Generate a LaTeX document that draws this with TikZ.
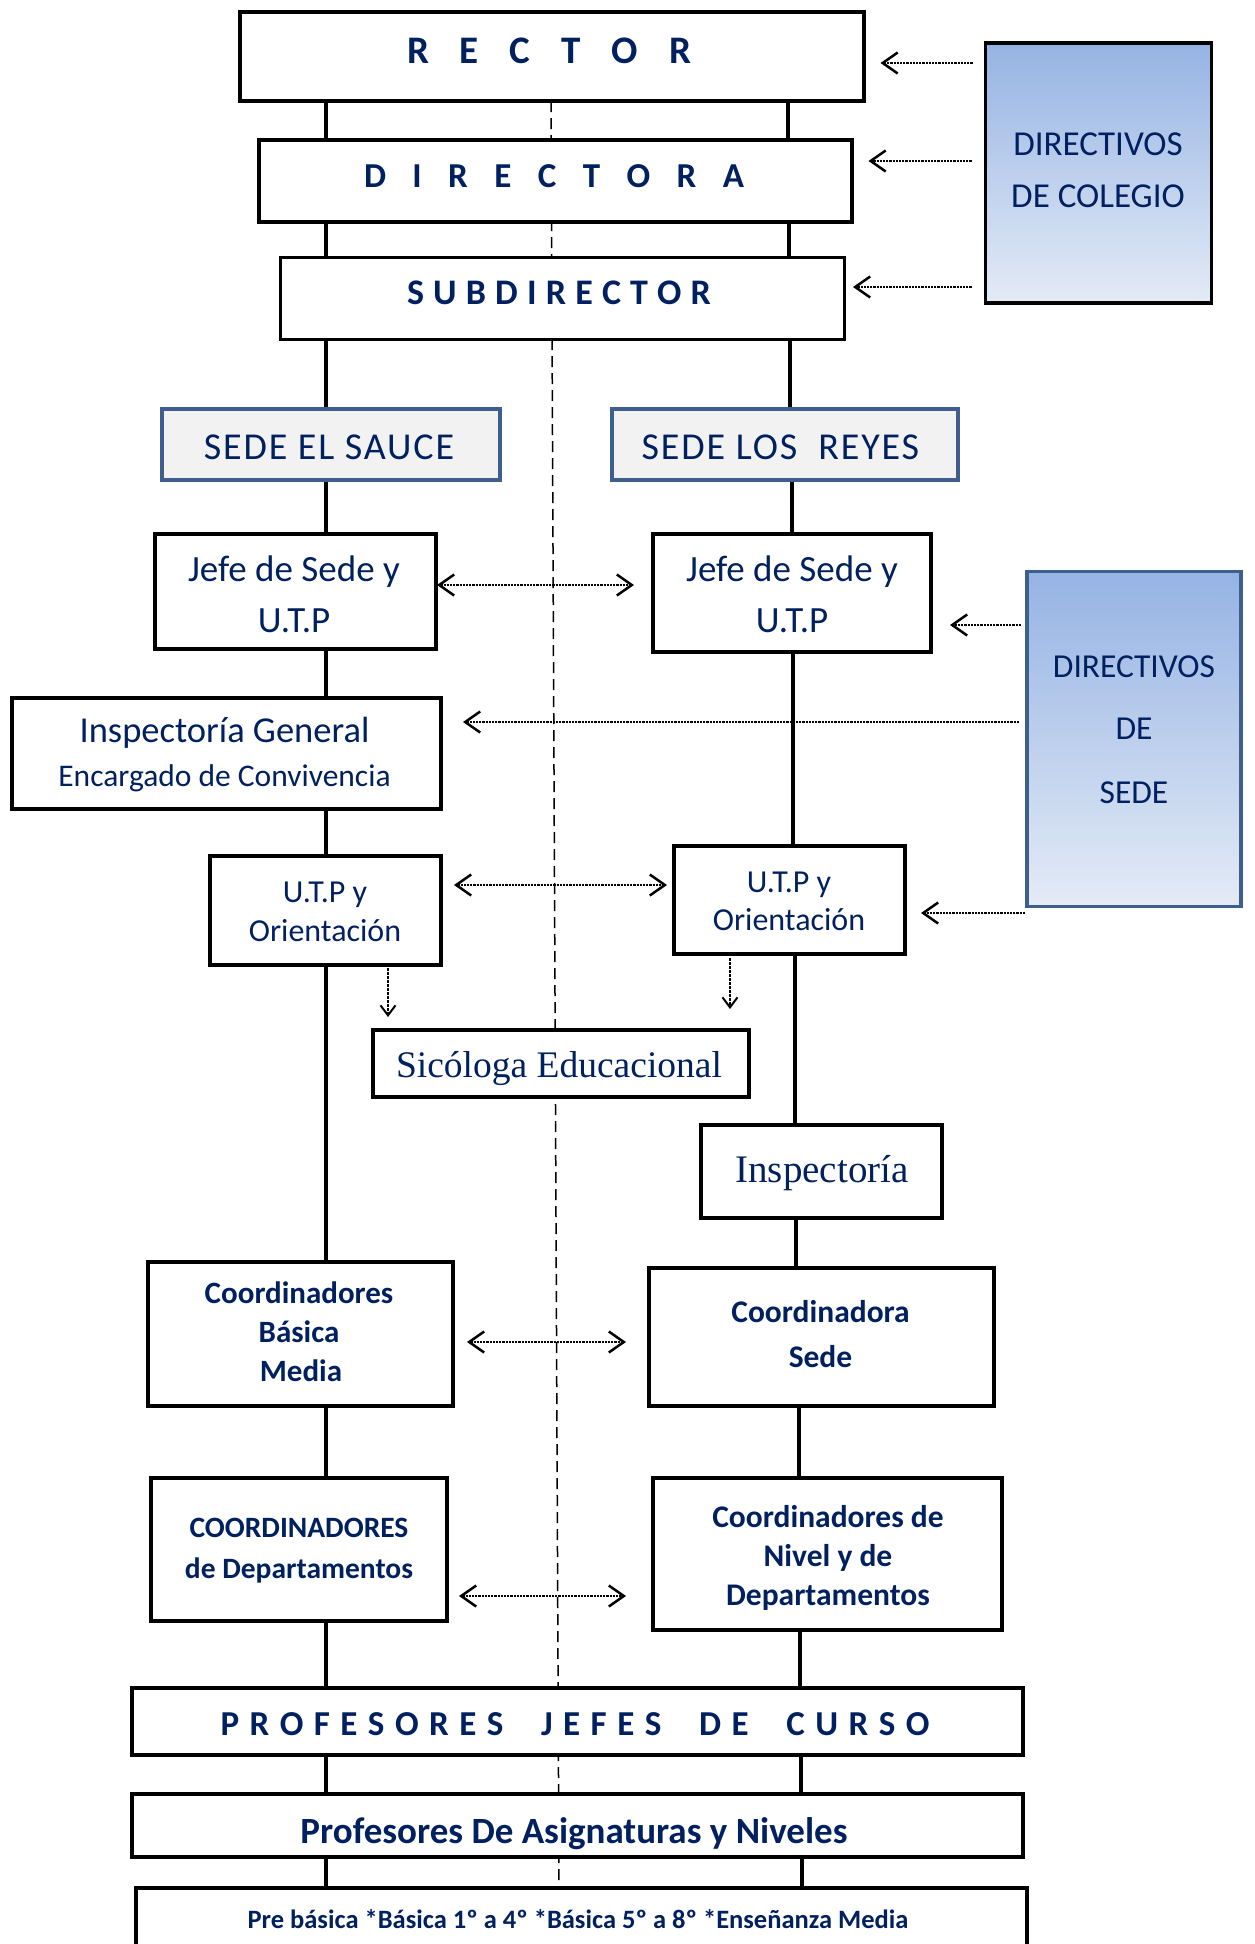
\documentclass[tikz,border=0pt]{standalone}
\usepackage{fontspec}
\setmainfont{Carlito}
\newfontfamily\camb{Liberation Serif}
\usetikzlibrary{arrows.meta}
\definecolor{navy}{HTML}{002060}
\definecolor{sedeblue}{HTML}{3E5E8E}
\definecolor{gtop}{HTML}{95B3E3}
\definecolor{gbot}{HTML}{E4EBF6}
\definecolor{sedefill}{HTML}{F2F2F2}
\pgfdeclarelayer{bg}
\pgfsetlayers{bg,main}
\newcommand\fsz[1]{\fontsize{#1pt}{#1pt}\selectfont}
\newcommand\tline[5]{\node[txt,font=#4] (#1) at (#2,#3) {#5};}
\newcommand\lgap{\hskip0pt plus 1fil\relax}
\newcommand\wgap{\hskip0pt plus 3.6fil\relax}
\tikzset{
  box/.style={draw=black, line width=4pt, fill=white, inner sep=0pt, outer sep=0pt},
  sedebox/.style={box, draw=sedeblue, fill=sedefill},
  dirbox/.style={draw=black, line width=3.5pt, top color=gtop, bottom color=gbot, inner sep=0pt, outer sep=0pt},
  txt/.style={anchor=base, inner sep=0pt, outer sep=0pt, text=navy},
  conn/.style={line width=4pt},
  cdash/.style={line width=1.5pt, dash pattern=on 11pt off 6pt},
  barb/.tip={Straight Barb[length=15pt,width=21pt,line width=2.5pt]},
  dotarr/.style={line width=2.6pt, dash pattern=on 2.2pt off 1pt, -barb},
  dotdarr/.style={line width=2.6pt, dash pattern=on 2.2pt off 1pt, barb-barb},
  downarr/.style={line width=1.8pt, dash pattern=on 2.5pt off 1.5pt, -{Straight Barb[length=10pt,width=15pt,line width=2pt]}}
}
\begin{document}
\begin{tikzpicture}[x=1pt,y=-1pt]
\useasboundingbox (0,0) rectangle (1254,1944);
\clip (0,0) rectangle (1254,1944);
\begin{pgfonlayer}{bg}
\fill[white] (0,0) rectangle (1254,1944);
\end{pgfonlayer}

% boxes
\node[box, minimum width=624pt, minimum height=89pt] (rector) at (551.5,56.5) {};
\node[box, minimum width=593pt, minimum height=82pt] (directora) at (555,181) {};
\node[box, line width=3pt, minimum width=564pt, minimum height=82pt] (subdir) at (562,298.5) {};
\node[dirbox, minimum width=226pt, minimum height=260pt] (colegio) at (1098.5,173) {};
\node[sedebox, minimum width=338pt, minimum height=71pt] (sauce) at (331,444.5) {};
\node[sedebox, minimum width=346pt, minimum height=71pt] (reyes) at (785,444.5) {};
\node[box, minimum width=281pt, minimum height=115pt] (jefeL) at (295.5,591.5) {};
\node[box, minimum width=278pt, minimum height=118pt] (jefeR) at (792,593) {};
\node[dirbox, draw=sedeblue, minimum width=214pt, minimum height=335pt] (dsede) at (1134,739) {};
\node[box, minimum width=429pt, minimum height=111pt] (inspG) at (226.5,753.5) {};
\node[box, minimum width=231pt, minimum height=109pt] (utpL) at (325.5,910.5) {};
\node[box, minimum width=231pt, minimum height=108pt] (utpR) at (789.5,900) {};
\node[box, minimum width=376pt, minimum height=67pt] (sico) at (561,1063.5) {};
\node[box, minimum width=241pt, minimum height=93pt] (insp) at (821.5,1171.5) {};
\node[box, minimum width=305pt, minimum height=144pt] (cbm) at (300.5,1334) {};
\node[box, minimum width=345pt, minimum height=138pt] (csede) at (821.5,1337) {};
\node[box, minimum width=296pt, minimum height=143pt] (cdep) at (299,1549.5) {};
\node[box, minimum width=349pt, minimum height=152pt] (cniv) at (827.5,1554) {};
\node[box, minimum width=891pt, minimum height=67pt] (pjc) at (577.5,1721.5) {};
\node[box, minimum width=891pt, minimum height=63pt] (pda) at (577.5,1825.5) {};
\node[box, minimum width=891pt, minimum height=110pt] (niveles) at (581,1943) {};

% reference coordinates
\coordinate (L) at (326,0);
\coordinate (r1) at (788,0);
\coordinate (r2) at (789,0);
\coordinate (r3) at (790,0);
\coordinate (r4) at (792,0);
\coordinate (r5) at (792.5,0);
\coordinate (r6) at (795,0);
\coordinate (r7) at (796,0);
\coordinate (r8) at (799,0);
\coordinate (r9) at (800,0);
\coordinate (r10) at (801,0);
\coordinate (r11) at (802,0);
\coordinate (ctop) at (551,0);
\coordinate (cbot) at (559,0);

\begin{pgfonlayer}{bg}
\draw[cdash] (rector.south -| ctop) -- (niveles.north -| cbot);
\foreach \a/\b in {rector/directora, directora/subdir, subdir/sauce, sauce/jefeL, jefeL/inspG, inspG/utpL, utpL/cbm, cbm/cdep, cdep/pjc, pjc/pda, pda/niveles}
  \draw[conn] (\a.south -| L) -- (\b.north -| L);
\draw[conn] (rector.south -| r1) -- (directora.north -| r1);
\draw[conn] (directora.south -| r2) -- (subdir.north -| r2);
\draw[conn] (subdir.south -| r3) -- (reyes.north -| r3);
\draw[conn] (reyes.south -| r4) -- (jefeR.north -| r4);
\draw[conn] (jefeR.south -| r5) -- (utpR.north -| r5);
\draw[conn] (utpR.south -| r6) -- (insp.north -| r6);
\draw[conn] (insp.south -| r7) -- (csede.north -| r7);
\draw[conn] (csede.south -| r8) -- (cniv.north -| r8);
\draw[conn] (cniv.south -| r9) -- (pjc.north -| r9);
\draw[conn] (pjc.south -| r10) -- (pda.north -| r10);
\draw[conn] (pda.south -| r11) -- (niveles.north -| r11);
\end{pgfonlayer}

% arrow heights
\coordinate (ya1) at (0,63);
\coordinate (ya2) at (0,161);
\coordinate (ya3) at (0,287);
\coordinate (ya4) at (0,585);
\coordinate (ya5) at (0,625);
\coordinate (ya6) at (0,722);
\coordinate (ya7) at (0,885);
\coordinate (ya8) at (0,913);
\coordinate (ya9) at (0,1342);
\coordinate (ya10) at (0,1596);
\coordinate (xd1) at (388,0);
\coordinate (xd2) at (730,0);

\draw[dotarr, shorten <=13pt, shorten >=17pt] (colegio.west |- ya1) -- (rector.east |- ya1);
\draw[dotarr, shorten <=14pt, shorten >=17pt] (colegio.west |- ya2) -- (directora.east |- ya2);
\draw[dotarr, shorten <=14pt, shorten >=9pt] (colegio.west |- ya3) -- (subdir.east |- ya3);
\draw[dotdarr, shorten <=1pt, shorten >=19pt] (jefeL.east |- ya4) -- (jefeR.west |- ya4);
\draw[dotarr, shorten <=6pt, shorten >=19pt] (dsede.west |- ya5) -- (jefeR.east |- ya5);
\draw[dotarr, shorten <=8pt, shorten >=22pt] (dsede.west |- ya6) -- (inspG.east |- ya6);
\draw[dotdarr, shorten <=13pt, shorten >=7pt] (utpL.east |- ya7) -- (utpR.west |- ya7);
\draw[dotarr, shorten <=2pt, shorten >=16pt] (dsede.west |- ya8) -- (utpR.east |- ya8);
\draw[downarr, shorten <=3pt, shorten >=13pt] (utpL.south -| xd1) -- (sico.north -| xd1);
\draw[downarr, shorten <=4pt, shorten >=21pt] (utpR.south -| xd2) -- (sico.north -| xd2);
\draw[dotdarr, shorten <=14pt, shorten >=23pt] (cbm.east |- ya9) -- (csede.west |- ya9);
\draw[dotdarr, shorten <=12pt, shorten >=27pt] (cdep.east |- ya10) -- (cniv.west |- ya10);

% texts
\tline{tRector}{549}{63}{\bfseries\fsz{39}}{\makebox[284pt][s]{R\lgap E\lgap C\lgap T\lgap O\lgap R}}
\tline{tDirectora}{554}{187}{\bfseries\fsz{35}}{\makebox[380pt][s]{D\lgap I\lgap R\lgap E\lgap C\lgap T\lgap O\lgap R\lgap A}}
\tline{tSubdir}{559}{304}{\bfseries\fsz{36}}{\makebox[304pt][s]{S\lgap U\lgap B\lgap D\lgap I\lgap R\lgap E\lgap C\lgap T\lgap O\lgap R}}
\tline{tCol1}{1098}{155}{\fsz{35}}{DIRECTIVOS}
\tline{tCol2}{1098}{207}{\fsz{35}}{DE COLEGIO}
\tline{tSauce}{329}{459}{\fsz{38}\addfontfeature{LetterSpace=5}}{SEDE EL SAUCE}
\tline{tReyes}{780.5}{459}{\fsz{38}\addfontfeature{LetterSpace=5}}{SEDE LOS\ \ REYES}
\tline{tJefeL1}{294}{581}{\fsz{37}}{Jefe de Sede y}
\tline{tJefeL2}{294}{632}{\fsz{37}}{U.T.P}
\tline{tJefeR1}{792}{581}{\fsz{37}}{Jefe de Sede y}
\tline{tJefeR2}{792}{632}{\fsz{37}}{U.T.P}
\tline{tDS1}{1134}{677}{\fsz{33.5}}{DIRECTIVOS}
\tline{tDS2}{1134}{739}{\fsz{33.5}}{DE}
\tline{tDS3}{1134}{803}{\fsz{33.5}}{SEDE}
\tline{tInspG1}{224.5}{742}{\fsz{36.5}}{Inspectoría General}
\tline{tInspG2}{224.5}{786}{\fsz{31.5}}{Encargado de Convivencia}
\tline{tUtpL1}{325}{902}{\fsz{32}}{U.T.P y}
\tline{tUtpL2}{325}{941}{\fsz{32}}{Orientación}
\tline{tUtpR1}{789}{892}{\fsz{32}}{U.T.P y}
\tline{tUtpR2}{789}{930}{\fsz{32}}{Orientación}
\tline{tSico}{559}{1077}{\camb\fsz{37.5}}{Sicóloga Educacional}
\tline{tInsp}{822}{1182}{\camb\fsz{39}}{Inspectoría}
\tline{tCbm1}{299}{1303}{\bfseries\fsz{31}}{Coordinadores}
\tline{tCbm2}{299}{1342}{\bfseries\fsz{31}}{Básica}
\tline{tCbm3}{301}{1381}{\bfseries\fsz{31}}{Media}
\tline{tCsede1}{820.5}{1322}{\bfseries\fsz{31.5}}{Coordinadora}
\tline{tCsede2}{820.5}{1367}{\bfseries\fsz{31.5}}{Sede}
\tline{tCdep1}{299}{1537}{\bfseries\fsz{29.5}}{COORDINADORES}
\tline{tCdep2}{299}{1578}{\bfseries\fsz{29.5}}{de Departamentos}
\tline{tCniv1}{828}{1527}{\bfseries\fsz{31.5}}{Coordinadores de}
\tline{tCniv2}{828}{1566}{\bfseries\fsz{31.5}}{Nivel y de}
\tline{tCniv3}{828}{1605}{\bfseries\fsz{31.5}}{Departamentos}
\tline{tPjc}{575}{1735}{\bfseries\fsz{35}}{\makebox[709pt][s]{P\lgap R\lgap O\lgap F\lgap E\lgap S\lgap O\lgap R\lgap E\lgap S\wgap J\lgap E\lgap F\lgap E\lgap S\wgap D\lgap E\wgap C\lgap U\lgap R\lgap S\lgap O}}
\tline{tPda}{574}{1843}{\bfseries\fsz{37}}{Profesores De Asignaturas y Niveles}
\tline{tNiv}{578}{1928}{\bfseries\fsz{26.5}}{Pre básica *Básica 1º a 4º *Básica 5º a 8º *Enseñanza Media}
\end{tikzpicture}
\end{document}
